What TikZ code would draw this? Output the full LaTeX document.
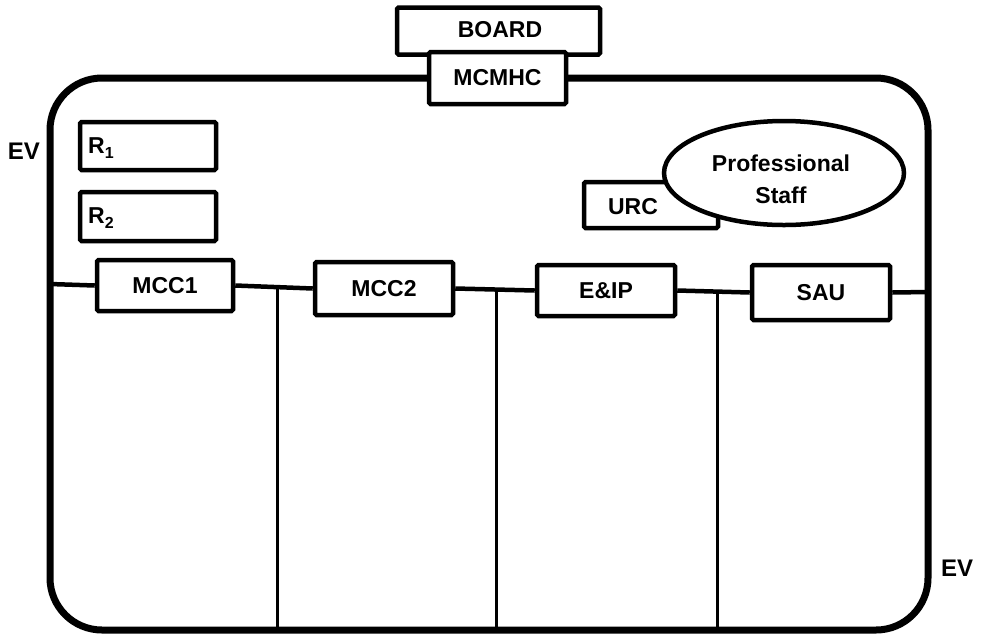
\documentclass[tikz,border=0pt]{standalone}
\usepackage{fontspec}
\setmainfont{Liberation Sans}
\usetikzlibrary{shapes.geometric,calc}
\begin{document}
\begin{tikzpicture}[x=1pt,y=-1pt,
 box/.style={draw, line width=4.5pt, fill=white, inner sep=0pt, font=\fontsize{23}{25}\selectfont\bfseries, rounded corners=1.5pt},
 lbl/.style={font=\fontsize{23}{25}\selectfont\bfseries, inner sep=0pt},
 conn/.style={line width=4.5pt},
 divider/.style={line width=3pt},
 frame/.style={line width=7pt, rounded corners=52pt}]
\useasboundingbox (0,0) rectangle (985,641);
% outer frame
\draw[frame] (50,78) rectangle (928,630);
% top boxes
\node[box, minimum width=203pt, minimum height=47pt] (board) at (498.5,31) {};
\node[lbl] (boardt) at (500,30) {BOARD};
\node[box, minimum width=137pt, minimum height=52pt] (mcmhc) at (497.5,78) {MCMHC};
% R boxes
\node[box, minimum width=136pt, minimum height=48pt] (r1) at (148,146) {};
\node[lbl, anchor=west] (r1t) at (88,148) {R\raisebox{-5pt}{\fontsize{16}{16}\selectfont\bfseries 1}};
\node[box, minimum width=136pt, minimum height=49pt] (r2) at (148,216.5) {};
\node[lbl, anchor=west] (r2t) at (88,218) {R\raisebox{-5pt}{\fontsize{16}{16}\selectfont\bfseries 2}};
% URC and professional staff
\node[box, minimum width=134pt, minimum height=46pt] (urc) at (651,205) {};
\node[lbl] (urct) at (633,207) {URC};
\node[box, ellipse, minimum width=240pt, minimum height=104pt] (staff) at (784,173) {};
\node[lbl, align=center] (stafft) at (781,179) {Professional\\[7pt]Staff};
% EV labels
\node[lbl, font=\fontsize{24}{26}\selectfont\bfseries] (ev1) at (24,151) {EV};
\node[lbl, font=\fontsize{24}{26}\selectfont\bfseries] (ev2) at (957,568) {EV};
% main line boxes
\node[box, minimum width=136pt, minimum height=51pt] (mcc1) at (165,285.5) {MCC1};
\node[box, minimum width=138pt, minimum height=53pt] (mcc2) at (384,288.5) {MCC2};
\node[box, minimum width=138pt, minimum height=51pt] (eip) at (606,290.5) {E\&IP};
\node[box, minimum width=138pt, minimum height=55pt] (sau) at (821,292.5) {SAU};
\coordinate (lft) at (50,284);
\coordinate (rgt) at (928,292);
\coordinate (bot) at (0,630);
\draw[conn] (lft) -- (mcc1.west);
\draw[conn] (mcc1.east) -- (mcc2.west);
\draw[conn] (mcc2.east) -- (eip.west);
\draw[conn] (eip.east) -- (sau.west);
\draw[conn] (sau.east) -- (rgt);
\coordinate (j1) at ($(mcc1.east)!0.55!(mcc2.west)$);
\coordinate (j2) at ($(mcc2.east)!0.525!(eip.west)$);
\coordinate (j3) at ($(eip.east)!0.56!(sau.west)$);
\draw[divider] (j1) -- (j1 |- bot);
\draw[divider] (j2) -- (j2 |- bot);
\draw[divider] (j3) -- (j3 |- bot);
\end{tikzpicture}
\end{document}
